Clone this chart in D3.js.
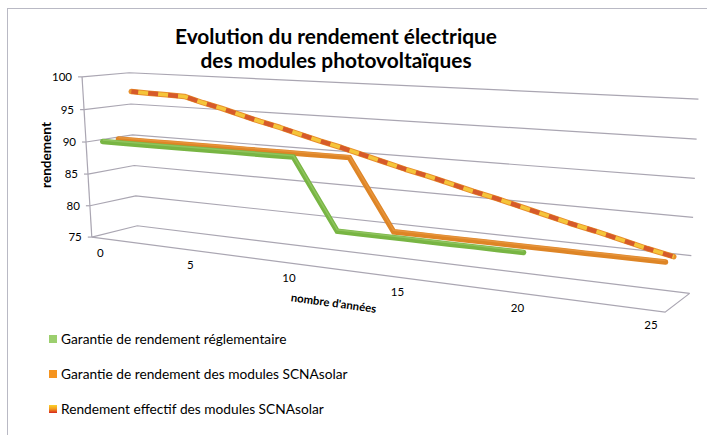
<!DOCTYPE html>
<html>
<head>
<meta charset="utf-8">
<script src="https://cdn.jsdelivr.net/npm/d3@7"></script>
<style>
  html, body { margin: 0; padding: 0; background: #fff; }
  svg { display: block; }
  text { font-family: Lato, "Open Sans", sans-serif; fill: #000; }
</style>
</head>
<body>
<svg id="chart" width="707" height="435"></svg>
<script>
// ---------------- DATA ----------------
const years = [0,1,2,3,4,5,6,7,8,9,10,11,12,13,14,15,16,17,18,19,20,21,22,23,24,25];
const xTickLabels = [0, 5, 10, 15, 20, 25];
const yTickLabels = [75, 80, 85, 90, 95, 100];
const seriesNames = [
  "Garantie de rendement réglementaire",
  "Garantie de rendement des modules SCNAsolar",
  "Rendement effectif des modules SCNAsolar"
];
const garantieReglementaire = [90,90,90,90,90,90,90,90,90,90,90,85,80,80,80,80,80,80,80,80,80];
const garantieSCNA = [90,90,90,90,90,90,90,90,90,90,90,90,90,85,80,80,80,80,80,80,80,80,80,80,80,80];
const rendementEffectif = [97.2,97.1,97.0,96.9,96.1,95.4,94.6,93.8,93.1,92.3,91.5,90.8,90.0,89.2,88.4,87.7,86.9,86.1,85.4,84.6,83.8,83.0,82.3,81.5,80.7,80.0];
const chartTitle = ["Evolution du rendement électrique", "des modules photovoltaïques"];
const yAxisTitle = "rendement";
const xAxisTitle = "nombre d'années";

// ---------------- 3D PROJECTION (fitted to the box corners) ----------------
// [X, Y, Z, screenX, screenY]  X: category axis, Y: value axis, Z: depth (0 front, 1 back)
const boxCalibration = [
  [0,0,0, 92,237], [0,1,0, 83,78], [0,0.6,0, 85,141], [0,0.8,0, 84,109],
  [0,0,1, 138,226], [0,1,1, 130,72], [0,0.6,1, 132,136], [0,0.8,1, 130,104],
  [1,0,1, 689,293], [1,1,1, 698,99], [1,0.8,1, 697,140], [1,0.6,1, 695,178], [1,0.2,1, 692,255],
  [1,0,0, 665,313]
];
function fitProjection(pts) {
  const A = [], b = [];
  pts.forEach(([X,Y,Z,u,v]) => {
    A.push([X,Y,Z,1,0,0,0,0,-u*X,-u*Y,-u*Z]); b.push(u);
    A.push([0,0,0,0,X,Y,Z,1,-v*X,-v*Y,-v*Z]); b.push(v);
  });
  const n = 11;
  const M = [];
  for (let i = 0; i < n; i++) {
    const row = new Array(n + 1).fill(0);
    for (let j = 0; j < n; j++) for (let k = 0; k < A.length; k++) row[j] += A[k][i] * A[k][j];
    for (let k = 0; k < A.length; k++) row[n] += A[k][i] * b[k];
    M.push(row);
  }
  for (let c = 0; c < n; c++) {
    let piv = c;
    for (let r = c + 1; r < n; r++) if (Math.abs(M[r][c]) > Math.abs(M[piv][c])) piv = r;
    [M[c], M[piv]] = [M[piv], M[c]];
    for (let r = 0; r < n; r++) {
      if (r === c) continue;
      const f = M[r][c] / M[c][c];
      for (let k = c; k <= n; k++) M[r][k] -= f * M[c][k];
    }
  }
  return M.map((row, i) => row[n] / row[i]);
}
const P = fitProjection(boxCalibration);
function project(X, Y, Z) {
  const w = P[8]*X + P[9]*Y + P[10]*Z + 1;
  return [(P[0]*X + P[1]*Y + P[2]*Z + P[3]) / w, (P[4]*X + P[5]*Y + P[6]*Z + P[7]) / w];
}

// ---------------- SCALES ----------------
const xScale = d3.scaleLinear().domain([years[0] - 0.5, years[years.length - 1] + 0.5]).range([0, 1]);
const yScale = d3.scaleLinear().domain([75, 100]).range([0, 1]);
const zScale = d3.scaleBand().domain(seriesNames).range([0, 1]);
const zc = name => zScale(name) + zScale.bandwidth() / 2;

const svg = d3.select("#chart");

// border
svg.append("rect").attr("x", 7.5).attr("y", 8.5).attr("width", 720).attr("height", 450)
  .attr("fill", "#fff").attr("stroke", "#b9b9c4").attr("stroke-width", 1);

// ---------------- GRID (walls) ----------------
const gridColor = "#aaa6b2";
const gline = d3.line();
yTickLabels.forEach(v => {
  const Y = yScale(v);
  svg.append("path")
    .attr("d", gline([project(0,Y,0), project(0,Y,1), project(1,Y,1)]))
    .attr("fill", "none").attr("stroke", gridColor).attr("stroke-width", 1.2);
  const p = project(0, Y, 0);
  svg.append("line").attr("x1", p[0] - 4).attr("x2", p[0]).attr("y1", p[1]).attr("y2", p[1])
    .attr("stroke", gridColor).attr("stroke-width", 1.2);
});
// floor front and right edges
svg.append("path")
  .attr("d", gline([project(0,0,0), project(1,0,0), project(1,0,1)]))
  .attr("fill", "none").attr("stroke", gridColor).attr("stroke-width", 1.2);
// front-left vertical axis
svg.append("path")
  .attr("d", gline([project(0,0,0), project(0,1,0)]))
  .attr("fill", "none").attr("stroke", gridColor).attr("stroke-width", 1.2);

// ---------------- SERIES ----------------
function seriesPath(values, name) {
  const Z = zc(name);
  return d3.line()
    .x((d, i) => project(xScale(years[i]), yScale(d), Z)[0])
    .y((d, i) => project(xScale(years[i]), yScale(d), Z)[1])(values);
}
// back to front
const effPath = seriesPath(rendementEffectif, seriesNames[2]);
svg.append("path").attr("d", effPath).attr("fill", "none").attr("stroke", "#e8902c")
  .attr("stroke-width", 5.5).attr("stroke-linejoin", "round").attr("stroke-linecap", "round");
svg.append("path").attr("d", effPath).attr("fill", "none").attr("stroke", "#f5c53a")
  .attr("stroke-width", 3.5).attr("stroke-linejoin", "round");
svg.append("path").attr("d", effPath).attr("fill", "none").attr("stroke", "#d65a2a")
  .attr("stroke-width", 4.5).attr("stroke-dasharray", "10,10").attr("stroke-dashoffset", 3);

const scnaPath = seriesPath(garantieSCNA, seriesNames[1]);
svg.append("path").attr("d", scnaPath).attr("fill", "none").attr("stroke", "#de8526")
  .attr("stroke-width", 5.5).attr("stroke-linejoin", "miter").attr("stroke-linecap", "round");
svg.append("path").attr("d", scnaPath).attr("fill", "none").attr("stroke", "#e99a45")
  .attr("stroke-width", 1.5).attr("transform", "translate(0,-1.5)").attr("opacity", 0.7);

const regPath = seriesPath(garantieReglementaire, seriesNames[0]);
svg.append("path").attr("d", regPath).attr("fill", "none").attr("stroke", "#78b543")
  .attr("stroke-width", 5.5).attr("stroke-linejoin", "miter").attr("stroke-linecap", "round");
svg.append("path").attr("d", regPath).attr("fill", "none").attr("stroke", "#98cb6a")
  .attr("stroke-width", 1.5).attr("transform", "translate(0,-1.5)").attr("opacity", 0.7);

// ---------------- AXIS LABELS ----------------
yTickLabels.forEach(v => {
  const p = project(0, yScale(v), 0);
  svg.append("text").attr("x", p[0] - 10).attr("y", p[1]).attr("dy", "0.35em")
    .attr("text-anchor", "end").style("font-size", "11.5px").text(v);
});
xTickLabels.forEach(t => {
  const p = project(xScale(t), 0, 0);
  svg.append("text").attr("x", p[0]).attr("y", p[1] + 15).attr("dy", "0.35em")
    .attr("text-anchor", "middle").style("font-size", "11.5px").text(t);
});

function fitText(sel, target) {
  const w = sel.node().getComputedTextLength();
  const fs = parseFloat(sel.style("font-size"));
  sel.style("font-size", (fs * target / w) + "px");
}

const yt = svg.append("text").attr("transform", "translate(51,155) rotate(-90)")
  .attr("text-anchor", "middle").style("font-size", "12px").style("font-weight", "bold").text(yAxisTitle);
fitText(yt, 66);

const xt = svg.append("text").attr("transform", "translate(333,307) rotate(7.8)")
  .attr("text-anchor", "middle").style("font-size", "10px").style("font-weight", "bold").text(xAxisTitle);
fitText(xt, 86);

// ---------------- TITLE ----------------
const t1 = svg.append("text").attr("x", 336).attr("y", 44).attr("text-anchor", "middle")
  .style("font-size", "20px").style("font-weight", "bold").text(chartTitle[0]);
fitText(t1, 322);
const t2 = svg.append("text").attr("x", 336).attr("y", 68).attr("text-anchor", "middle")
  .style("font-size", t1.style("font-size")).style("font-weight", "bold").text(chartTitle[1]);

// ---------------- LEGEND ----------------
const defs = svg.append("defs");
const grad = defs.append("linearGradient").attr("id", "effGrad").attr("x1", 0).attr("y1", 0).attr("x2", 0).attr("y2", 1);
grad.append("stop").attr("offset", "0%").attr("stop-color", "#fbd22a");
grad.append("stop").attr("offset", "50%").attr("stop-color", "#f39a1e");
grad.append("stop").attr("offset", "100%").attr("stop-color", "#d6261e");
const legendFills = ["#9ccf6e", "#f5941f", "url(#effGrad)"];
const legendY = [339, 374, 409];
const legendTexts = [];
seriesNames.forEach((name, i) => {
  svg.append("rect").attr("x", 49).attr("y", legendY[i] - 4).attr("width", 8).attr("height", 8)
    .attr("fill", legendFills[i]);
  legendTexts.push(svg.append("text").attr("x", 61).attr("y", legendY[i]).attr("dy", "0.35em")
    .style("font-size", "13px").text(name));
});
fitText(legendTexts[1], 287);
const lfs = legendTexts[1].style("font-size");
legendTexts.forEach(t => t.style("font-size", lfs));
</script>
</body>
</html>
